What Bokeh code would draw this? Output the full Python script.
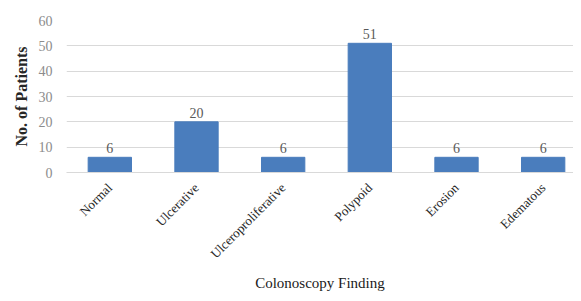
import math
from bokeh.plotting import figure
from bokeh.models import Range1d, FixedTicker, ColumnDataSource, LabelSet
from bokeh.embed import file_html
from bokeh.resources import INLINE

categories = ["Normal", "Ulcerative", "Ulceroproliferative", "Polypoid", "Erosion", "Edematous"]
patients = [6, 20, 6, 51, 6, 6]
y_ticks = [0, 10, 20, 30, 40, 50, 60]

FONT = "Liberation Serif"
xs = list(range(len(categories)))
src = ColumnDataSource(dict(x=xs, y=patients, lab=[str(v) for v in patients]))

p = figure(width=573, height=293, output_backend="svg", toolbar_location=None,
           x_range=Range1d(-0.5, 5.35), y_range=Range1d(0, 60),
           min_border_left=66, min_border_right=0, min_border_top=20, min_border_bottom=120)
p.outline_line_color = None
p.background_fill_color = "white"
p.border_fill_color = "white"

p.vbar(x="x", top="y", width=0.5, source=src, fill_color="#4a7dbd", line_color="#4a7dbd")
labels = LabelSet(x="x", y="y", text="lab", source=src, text_align="center", text_baseline="bottom",
                  y_offset=4, text_font=FONT, text_font_size="14px", text_color="#595959")
p.add_layout(labels)

p.xgrid.visible = False
p.ygrid.ticker = FixedTicker(ticks=y_ticks)
p.ygrid.grid_line_color = "#d9d9d9"
p.ygrid.grid_line_width = 1

p.yaxis.ticker = FixedTicker(ticks=y_ticks)
p.yaxis.axis_line_color = None
p.yaxis.major_tick_line_color = None
p.yaxis.minor_tick_line_color = None
p.yaxis.major_label_standoff = 8
p.yaxis.major_label_text_font = FONT
p.yaxis.major_label_text_font_size = "14px"
p.yaxis.major_label_text_color = "#8c8c8c"
p.yaxis.axis_label = "No. of Patients"
p.yaxis.axis_label_text_font = FONT
p.yaxis.axis_label_text_font_size = "16px"
p.yaxis.axis_label_text_font_style = "bold"
p.yaxis.axis_label_text_color = "#262626"
p.yaxis.axis_label_standoff = 6

p.xaxis.ticker = FixedTicker(ticks=xs)
p.xaxis.major_label_overrides = {i: c for i, c in enumerate(categories)}
p.xaxis.major_label_orientation = math.pi / 4
p.xaxis.axis_line_color = "#d9d9d9"
p.xaxis.major_tick_line_color = None
p.xaxis.minor_tick_line_color = None
p.xaxis.major_label_standoff = 7
p.xaxis.major_label_text_font = FONT
p.xaxis.major_label_text_font_size = "13px"
p.xaxis.major_label_text_color = "#262626"
p.xaxis.axis_label = "Colonoscopy Finding"
p.xaxis.axis_label_text_font = FONT
p.xaxis.axis_label_text_font_size = "15px"
p.xaxis.axis_label_text_font_style = "normal"
p.xaxis.axis_label_text_color = "#1a1a1a"
p.xaxis.axis_label_standoff = 5

open("out.html", "w").write(file_html(p, INLINE))
